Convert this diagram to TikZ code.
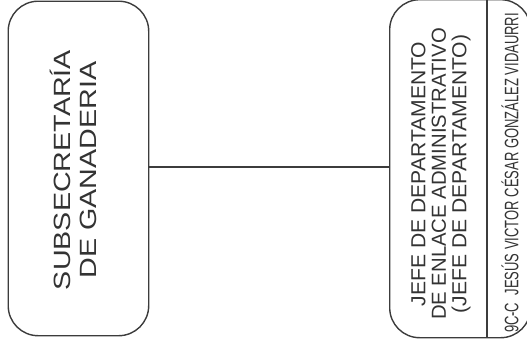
\documentclass[tikz,border=0pt]{standalone}
\usepackage{fontspec}
\setmainfont{Liberation Sans}
\usepackage{graphicx}
\definecolor{linegray}{HTML}{3C3C3C}
\definecolor{textgray}{HTML}{333333}
\begin{document}
\begin{tikzpicture}[x=1pt,y=-1pt,
  box/.style={draw=linegray, line width=1.4pt, rounded corners=30pt, minimum width=#1, anchor=north west, inner sep=0pt},
  conn/.style={draw=linegray, line width=1.3pt},
  lbl/.style={rotate=90, align=center, text=textgray, inner sep=0pt}]
\useasboundingbox (0,0) rectangle (527,343);
\node[box=140.5pt, minimum height=334.5pt] (sub) at (7.5,0.5) {};
\node[box=141pt, minimum height=338pt] (jefe) at (389,-1) {};
\coordinate (dtop) at (487,-1);
\coordinate (dbot) at (487,337);
\draw[conn] (dtop) -- (dbot);
\draw[conn] (sub.east |- 0,167) -- (jefe.west |- 0,167);
\node[lbl, font=\fontsize{23.5}{26}\selectfont] (subt) at (73,170)
  {\scalebox{1.22}[1]{SUBSECRETARÍA}\\\scalebox{1.22}[1]{DE GANADERIA}};
\node[lbl, font=\fontsize{20.3}{20.5}\selectfont] (jefet) at (441,174)
  {\scalebox{1.04}[1]{JEFE DE DEPARTAMENTO}\\DE ENLACE ADMINISTRATIVO\\\scalebox{1.04}[1]{(JEFE DE DEPARTAMENTO)}};
\node[lbl, font=\fontsize{19.5}{20}\selectfont] (name) at (510,173)
  {\scalebox{0.667}[1]{9C-C\ \ JESÚS VICTOR CÉSAR GONZÁLEZ VIDAURRI}};
\end{tikzpicture}
\end{document}
